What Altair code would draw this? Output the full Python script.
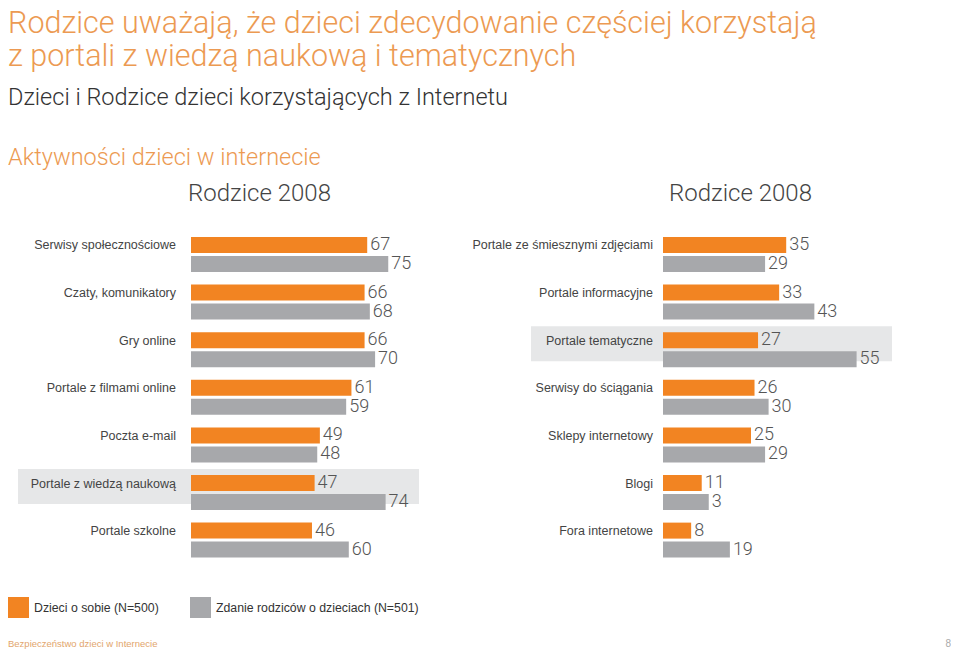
import altair as alt
import pandas as pd

# ---------------- data ----------------
series_names = ["Dzieci o sobie (N=500)", "Zdanie rodziców o dzieciach (N=501)"]

left_categories = ["Serwisy społecznościowe", "Czaty, komunikatory", "Gry online",
                   "Portale z filmami online", "Poczta e-mail",
                   "Portale z wiedzą naukową", "Portale szkolne"]
left_kids = [67, 66, 66, 61, 49, 47, 46]
left_parents = [75, 68, 70, 59, 48, 74, 60]
left_kids_labels = ["67", "66", "66", "61", "49", "47", "46"]
left_parents_labels = ["75", "68", "70", "59", "48", "74", "60"]

right_categories = ["Portale ze śmiesznymi zdjęciami", "Portale informacyjne",
                    "Portale tematyczne", "Serwisy do ściągania",
                    "Sklepy internetowy", "Blogi", "Fora internetowe"]
right_kids = [35, 33, 27, 26, 25, 11, 8]
right_parents = [29, 43, 55, 30, 29, 13, 19]
right_kids_labels = ["35", "33", "27", "26", "25", "11", "8"]
right_parents_labels = ["29", "43", "55", "30", "29", "3", "19"]

left_highlight = ["Portale z wiedzą naukową"]
right_highlight = ["Portale tematyczne"]

title_lines = ["Rodzice uważają, że dzieci zdecydowanie częściej korzystają",
               "z portali z wiedzą naukową i tematycznych"]
subtitle = ["Dzieci i Rodzice dzieci korzystających z Internetu"]
section = ["Aktywności dzieci w internecie"]
panel_titles = ["Rodzice 2008", "Rodzice 2008"]
footer_left = ["Bezpieczeństwo dzieci w Internecie"]
footer_right = ["8"]


def panel_df(cats, kids, parents, kl, pl):
    rows = []
    for i, c in enumerate(cats):
        rows.append({"row": i, "category": c, "series": series_names[0], "value": kids[i], "label": kl[i]})
        rows.append({"row": i, "category": c, "series": series_names[1], "value": parents[i], "label": pl[i]})
    return pd.DataFrame(rows)


left_df = panel_df(left_categories, left_kids, left_parents, left_kids_labels, left_parents_labels)
right_df = panel_df(right_categories, right_kids, right_parents, right_kids_labels, right_parents_labels)
left_cat_df = pd.DataFrame({"row": list(range(len(left_categories))), "category": left_categories})
right_cat_df = pd.DataFrame({"row": list(range(len(right_categories))), "category": right_categories})
left_hl_df = pd.DataFrame({"row": [left_categories.index(c) for c in left_highlight]})
right_hl_df = pd.DataFrame({"row": [right_categories.index(c) for c in right_highlight]})

ORANGE = "#f28422"
GREY = "#a7a8ab"
TITLE_ORANGE = "#ec9a52"
HL = "#e6e7e8"

# ---------------- scales ----------------
rows_domain = list(range(7))
yscale = alt.Scale(domain=rows_domain, range=[229, 549.6], paddingInner=0.265, paddingOuter=0)
offscale = alt.Scale(domain=series_names, paddingInner=0.158, paddingOuter=0)
colorscale = alt.Scale(domain=series_names, range=[ORANGE, GREY])

legend = alt.Legend(
    orient="none", legendX=0, legendY=589, direction="horizontal", title=None,
    symbolType="square", symbolSize=441, symbolStrokeWidth=0, symbolOpacity=1,
    labelFont="Liberation Sans", labelFontSize=12.3, labelColor="#333333",
    labelOffset=5, columnPadding=31, labelLimit=400,
)


def panel(df, cat_df, hl_df, x_range, label_x, hl_x0, hl_x1, show_legend):
    xs = alt.X("value:Q", scale=alt.Scale(domain=[0, 100], range=x_range), axis=None)
    ys = alt.Y("row:O", scale=yscale, axis=None)
    yo = alt.YOffset("series:N", scale=offscale, sort=series_names)
    hl = alt.Chart(hl_df).mark_rect(color=HL, yOffset=-6, y2Offset=6).encode(
        x=alt.value(hl_x0), x2=alt.value(hl_x1), y=ys)
    bars = alt.Chart(df).mark_bar().encode(
        x=xs, y=ys, yOffset=yo,
        color=alt.Color("series:N", scale=colorscale, sort=series_names,
                        legend=legend if show_legend else None))
    vals = alt.Chart(df).mark_text(align="left", baseline="middle", dx=3,
                                    font="Roboto", fontWeight=300, fontSize=18,
                                    color="#555555").encode(
        x=xs, y=ys, yOffset=yo, text="label:N")
    cats = alt.Chart(cat_df).mark_text(align="right", baseline="middle", dy=-9,
                                       font="Liberation Sans", fontSize=12.5,
                                       color="#444444").encode(
        x=alt.value(label_x), y=ys, text="category:N")
    return alt.layer(hl, bars, vals, cats)


left = panel(left_df, left_cat_df, left_hl_df, [183, 446], 168, 10, 411, True)
right = panel(right_df, right_cat_df, right_hl_df, [655, 1007], 645, 523, 884, False)


def text_layer(lines, x, y, size, color, weight=300, font="Roboto", align="left"):
    d = pd.DataFrame({"t": lines})
    return alt.Chart(d).mark_text(align=align, baseline="middle", font=font,
                                  fontWeight=weight, fontSize=size, color=color).encode(
        x=alt.value(x), y=alt.value(y), text="t:N")


header = [
    text_layer([title_lines[0]], 0, 16, 30.5, TITLE_ORANGE),
    text_layer([title_lines[1]], 0, 49, 30.5, TITLE_ORANGE),
    text_layer(subtitle, 0, 90, 23.5, "#333333"),
    text_layer(section, 0, 150, 23.5, TITLE_ORANGE),
    text_layer([panel_titles[0]], 251.5, 186, 24, "#444444", align="center"),
    text_layer([panel_titles[1]], 732.5, 186, 24, "#444444", align="center"),
    text_layer(footer_left, 0, 636, 9.5, "#e2a56c", weight=400, font="Liberation Sans"),
    text_layer(footer_right, 943, 636, 10, "#aaaaaa", weight=400, font="Liberation Sans", align="right"),
]

chart = alt.layer(*header, left, right).resolve_scale(x="independent").properties(
    width=943, height=641, padding=0,
    autosize=alt.AutoSizeParams(type="none"),
).configure_view(stroke=None)

chart.save("out.html", embed_options={"renderer": "svg", "actions": False})
